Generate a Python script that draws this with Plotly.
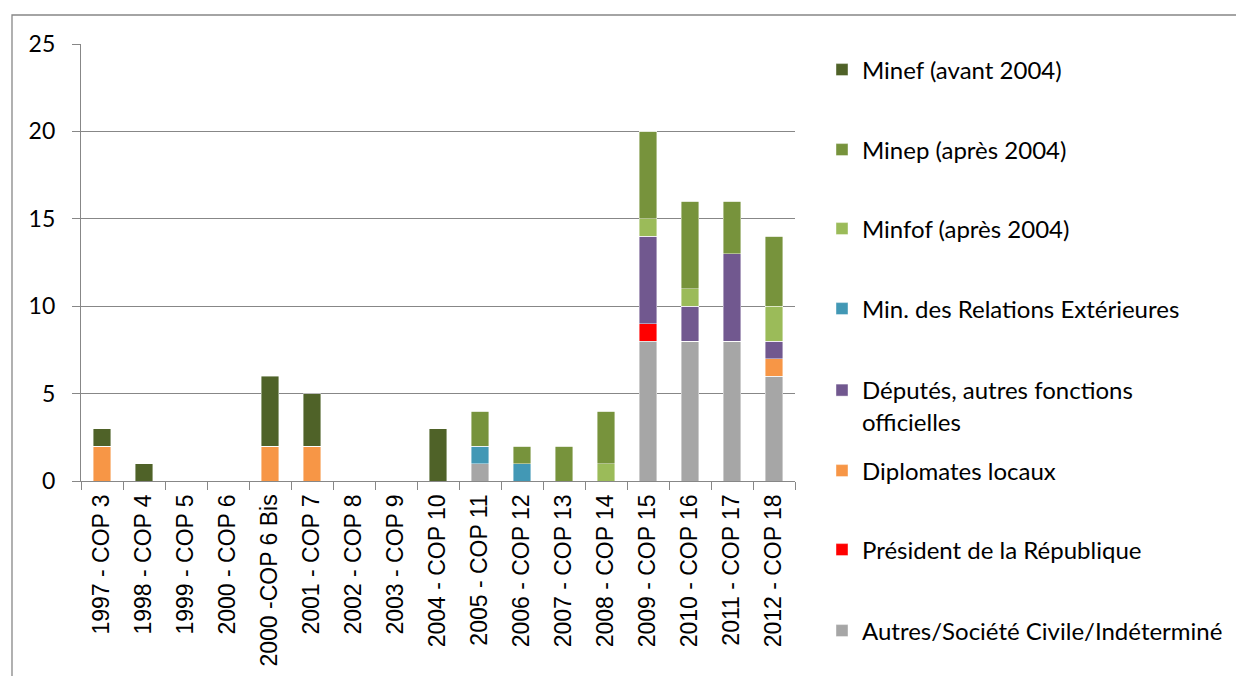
import plotly.graph_objects as go

categories = ["1997 - COP 3", "1998 - COP 4", "1999 - COP 5", "2000 - COP 6", "2000 -COP 6 Bis",
              "2001 - COP 7", "2002 - COP 8", "2003 - COP 9", "2004 - COP 10", "2005 - COP 11",
              "2006 - COP 12", "2007 - COP 13", "2008 - COP 14", "2009 - COP 15", "2010 - COP 16",
              "2011 - COP 17", "2012 - COP 18"]

autres     = [0, 0, 0, 0, 0, 0, 0, 0, 0, 1, 0, 0, 0, 8, 8, 8, 6]
president  = [0, 0, 0, 0, 0, 0, 0, 0, 0, 0, 0, 0, 0, 1, 0, 0, 0]
diplomates = [2, 0, 0, 0, 2, 2, 0, 0, 0, 0, 0, 0, 0, 0, 0, 0, 1]
deputes    = [0, 0, 0, 0, 0, 0, 0, 0, 0, 0, 0, 0, 0, 5, 2, 5, 1]
minrelext  = [0, 0, 0, 0, 0, 0, 0, 0, 0, 1, 1, 0, 0, 0, 0, 0, 0]
minfof     = [0, 0, 0, 0, 0, 0, 0, 0, 0, 0, 0, 0, 1, 1, 1, 0, 2]
minep      = [0, 0, 0, 0, 0, 0, 0, 0, 0, 2, 1, 2, 3, 5, 5, 3, 4]
minef      = [1, 1, 0, 0, 4, 3, 0, 0, 3, 0, 0, 0, 0, 0, 0, 0, 0]

series_names = ["Autres/Société Civile/Indéterminé", "Président de la République", "Diplomates locaux",
                "Députés, autres fonctions<br>officielles", "Min. des Relations Extérieures",
                "Minfof (après 2004)", "Minep (après 2004)", "Minef (avant 2004)"]
series_values = [autres, president, diplomates, deputes, minrelext, minfof, minep, minef]
colors = ["#A6A6A6", "#FF0000", "#F79646", "#71588F", "#4298B5", "#9BBB59", "#77933C", "#4F6228"]
legend_py = [631, 550, 471, 390, 309, 229, 150, 70]  # target pixel y of legend items

# target plot area in screenshot pixels; page body has an 8px margin
OFF = 8
L, R, T, B = 81, 795, 44, 481
W, H = 1228, 668

fig = go.Figure()
legend_layouts = {}
for i, (name, vals, col, py) in enumerate(zip(series_names, series_values, colors, legend_py)):
    lid = "legend" if i == 0 else f"legend{i+1}"
    fig.add_trace(go.Bar(
        x=categories, y=vals, name=name, marker_color=col,
        marker_line=dict(width=0.6, color="rgba(255,255,255,0.7)"),
        legend=lid, hoverinfo="x+y+name"))
    ly = dict(
        x=(822 - L) / (R - L), xanchor="left",
        y=(B - py) / (B - T), yanchor="middle",
        valign="top",
        font=dict(family="Lato, Carlito, Calibri, sans-serif", size=24, color="#000000"),
        bgcolor="rgba(0,0,0,0)", borderwidth=0,
    )
    if i == 3:
        ly["yanchor"] = "top"
        ly["y"] = (B - py + 22) / (B - T)
    legend_layouts[lid] = ly

fig.update_layout(
    barmode="stack",
    bargap=0.58,
    width=W, height=H,
    margin=dict(l=L - OFF, r=W - (R - OFF), t=T - OFF, b=H - (B - OFF), autoexpand=False),
    plot_bgcolor="white", paper_bgcolor="white",
    showlegend=True,
    font=dict(family="Lato, Carlito, Calibri, sans-serif", size=21, color="#000000"),
    xaxis=dict(
        type="category", showline=True, linecolor="#878787", linewidth=1.3,
        ticks="outside", tickson="boundaries", ticklen=8, tickcolor="#878787", tickwidth=1.3,
        tickangle=-90, showgrid=False, ticklabelstandoff=3,
        tickfont=dict(family="Liberation Sans, Arial, sans-serif", size=23, color="#000000"),
    ),
    yaxis=dict(
        range=[0, 25], dtick=5, showgrid=True, gridcolor="#878787", gridwidth=1.3,
        showline=True, linecolor="#878787", linewidth=1.3,
        ticks="outside", ticklen=8, tickcolor="#878787", tickwidth=1.3,
        ticklabelstandoff=12,
        tickfont=dict(family="Lato, Carlito, Calibri, sans-serif", size=23, color="#000000"),
        zeroline=False,
    ),
    shapes=[dict(type="rect", xref="paper", yref="paper",
                 x0=(12 - L) / (R - L), x1=(1243 - L) / (R - L),
                 y0=(B - 720) / (B - T), y1=(B - 15) / (B - T),
                 line=dict(color="#878787", width=1.3), fillcolor="rgba(0,0,0,0)", layer="below")],
    **legend_layouts,
)

fig.write_html("out.html")
